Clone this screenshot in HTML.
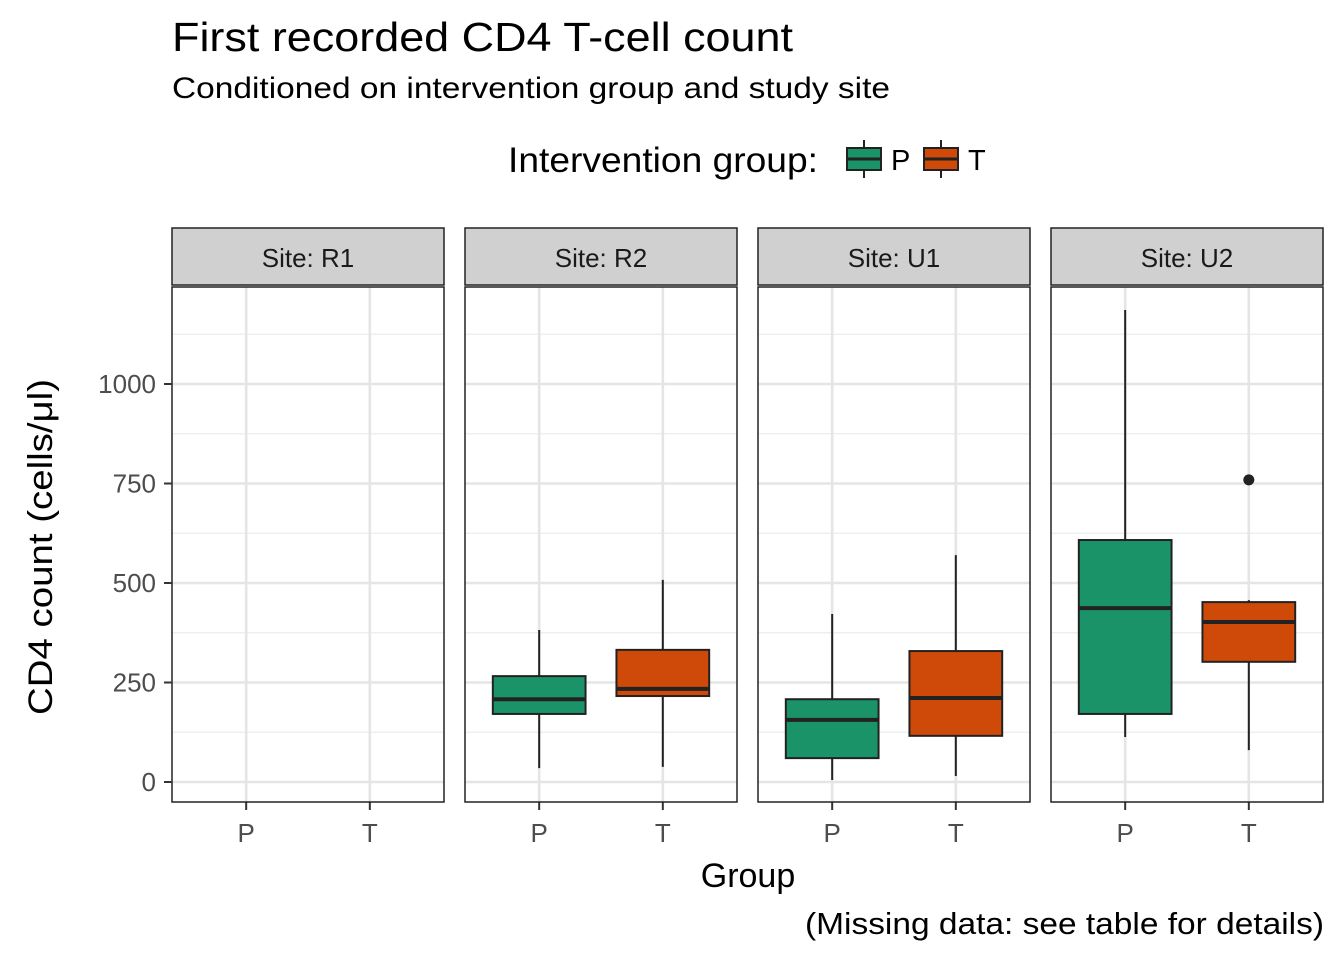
<!DOCTYPE html>
<html><head><meta charset="utf-8"><style>
body{margin:0;background:#fff;font-family:"Liberation Sans",Arial,sans-serif;}
</style></head><body>
<svg id="chart" width="1344" height="960" xmlns="http://www.w3.org/2000/svg" font-family="Liberation Sans, Arial, sans-serif">
<text x="172" y="51" font-size="41" textLength="621" lengthAdjust="spacingAndGlyphs">First recorded CD4 T-cell count</text>
<text x="172" y="98" font-size="30" textLength="718" lengthAdjust="spacingAndGlyphs">Conditioned on intervention group and study site</text>
<g>
<text x="508" y="172" font-size="35" textLength="310" lengthAdjust="spacingAndGlyphs">Intervention group:</text>
<g><line x1="864" y1="140" x2="864" y2="178" stroke="#222" stroke-width="2"/><rect x="847" y="148" width="34" height="22" fill="#1b9369" stroke="#222" stroke-width="2"/><line x1="847" y1="159" x2="881" y2="159" stroke="#222" stroke-width="3"/><text x="891" y="170" font-size="29">P</text></g>
<g><line x1="941" y1="140" x2="941" y2="178" stroke="#222" stroke-width="2"/><rect x="924" y="148" width="34" height="22" fill="#cf4a09" stroke="#222" stroke-width="2"/><line x1="924" y1="159" x2="958" y2="159" stroke="#222" stroke-width="3"/><text x="968" y="170" font-size="29">T</text></g>
</g>
<g id="plots"></g>
<text transform="translate(52,547) rotate(-90)" text-anchor="middle" font-size="34" textLength="336" lengthAdjust="spacingAndGlyphs">CD4 count (cells/μl)</text>
<text x="748" y="887" text-anchor="middle" font-size="34">Group</text>
<text x="805" y="934" font-size="31" textLength="519" lengthAdjust="spacingAndGlyphs">(Missing data: see table for details)</text>
</svg>
<script>
const sites=["R1","R2","U1","U2"];
const groups=["P","T"];
const yTicks=[0,250,500,750,1000];
// [low, q1, median, q3, high] per site per group (null = no data)
const statsP=[null,[35,171,208,266,382],[5,60,156,208,422],[113,171,437,608,1186]];
const statsT=[null,[38,216,234,332,508],[15,116,211,329,570],[80,302,402,452,457]];
const outliersT=[[],[],[],[759]];
const outliersP=[[],[],[],[]];
const colors={P:"#1b9369",T:"#cf4a09"};
const ns="http://www.w3.org/2000/svg";
const plotG=document.getElementById("plots");
const panelLeft=[172,465,758,1051], pw=272, pTop=287, pBot=802;
const yS=v=>782-v*0.398;
function mk(t,a,p){const e=document.createElementNS(ns,t);for(const k in a)e.setAttribute(k,a[k]);(p||plotG).appendChild(e);return e;}
const unit=pw/2.2;
const xc=(i,L)=>L+(0.6+i)*unit;
sites.forEach((s,si)=>{
 const L=panelLeft[si];
 const pg=mk("g",{});
 
 
 mk("rect",{x:L,y:pTop,width:pw,height:pBot-pTop,fill:"#fff"},pg);
 [125,375,625,875,1125].forEach(v=>mk("line",{x1:L,x2:L+pw,y1:yS(v),y2:yS(v),stroke:"#ebebeb","stroke-width":1.3},pg));
 yTicks.forEach(v=>mk("line",{x1:L,x2:L+pw,y1:yS(v),y2:yS(v),stroke:"#e5e5e5","stroke-width":2.6},pg));
 groups.forEach((gr,gi)=>mk("line",{x1:xc(gi,L),x2:xc(gi,L),y1:pTop,y2:pBot,stroke:"#e5e5e5","stroke-width":2.6},pg));
 groups.forEach((gr,gi)=>{
  const st=(gr==="P"?statsP:statsT)[si]; const cx=xc(gi,L), hw=0.375*unit;
  if(st){
   const b=mk("g",{},pg);
   
   
   mk("line",{x1:cx,x2:cx,y1:yS(st[0]),y2:yS(st[4]),stroke:"#222","stroke-width":2},b);
   mk("rect",{x:cx-hw,y:yS(st[3]),width:2*hw,height:yS(st[1])-yS(st[3]),fill:colors[gr],stroke:"#222","stroke-width":2},b);
   mk("line",{x1:cx-hw,x2:cx+hw,y1:yS(st[2]),y2:yS(st[2]),stroke:"#222","stroke-width":4},b);
   (gr==="P"?outliersP:outliersT)[si].forEach(o=>{const c=mk("circle",{cx:cx,cy:yS(o),r:5.5,fill:"#222"},b);
    
    });
  }
  mk("line",{x1:cx,x2:cx,y1:pBot,y2:pBot+8,stroke:"#333","stroke-width":2},pg);
  const t=mk("text",{x:cx,y:842,"text-anchor":"middle","font-size":26,fill:"#4d4d4d"},pg);t.textContent=gr;
  
  
 });
 mk("rect",{x:L,y:pTop,width:pw,height:pBot-pTop,fill:"none",stroke:"#222","stroke-width":1.5},pg);
 const sr=mk("rect",{x:L,y:228,width:pw,height:57,fill:"#d0d0d0",stroke:"#222","stroke-width":1.5},pg);
 
 
 const st=mk("text",{x:L+pw/2,y:267,"text-anchor":"middle","font-size":26,fill:"#1a1a1a"},pg);st.textContent="Site: "+s;
});
yTicks.forEach(v=>{
 mk("line",{x1:164,x2:172,y1:yS(v),y2:yS(v),stroke:"#333","stroke-width":2});
 const t=mk("text",{x:156,y:yS(v)+9,"text-anchor":"end","font-size":26,fill:"#4d4d4d"});t.textContent=v;
 
 
});
</script>
</body></html>
